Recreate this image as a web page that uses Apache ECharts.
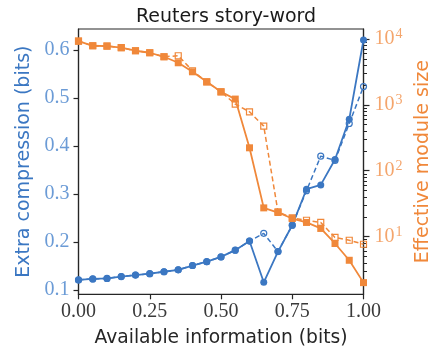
<!DOCTYPE html>
<html>
<head>
<meta charset="utf-8">
<script src="https://cdn.jsdelivr.net/npm/echarts@6/dist/echarts.min.js"></script>
<style>
  html, body { margin: 0; padding: 0; background: #ffffff; }
  #chart { width: 429px; height: 350px; }
</style>
</head>
<body>
<div id="chart"></div>
<script>
// Available information (bits) on the x axis
const availableInfo = [0, 0.05, 0.1, 0.15, 0.2, 0.25, 0.3, 0.35, 0.4, 0.45, 0.5,
                       0.55, 0.6, 0.65, 0.7, 0.75, 0.8, 0.85, 0.9, 0.95, 1.0];

// Extra compression (bits), left axis
const compressionSolid = [0.121, 0.123, 0.124, 0.128, 0.131, 0.134, 0.138, 0.142, 0.151, 0.159, 0.169,
                          0.183, 0.202, 0.116, 0.180, 0.235, 0.310, 0.319, 0.372, 0.456, 0.621];
const compressionDashed = [0.121, 0.123, 0.124, 0.128, 0.131, 0.134, 0.138, 0.142, 0.151, 0.159, 0.169,
                           0.183, 0.202, 0.218, 0.180, 0.235, 0.307, 0.379, 0.370, 0.447, 0.524];

// Effective module size, right (log) axis
const moduleSolid = [9300, 7900, 7830, 7380, 6640, 6190, 5380, 4360, 3180, 2240, 1580,
                     1225, 223, 27.3, 23.2, 18.8, 16.4, 13.3, 7.86, 4.37, 2.0];
const moduleDashed = [9300, 7900, 7830, 7380, 6640, 6190, 5380, 5570, 3300, 2240, 1580,
                      1028, 785, 476, 23.7, 19.2, 17.7, 16.4, 9.7, 8.8, 7.65];

// Tick positions
const xTicks = [0, 0.25, 0.5, 0.75, 1.0];
const compressionTicks = [0.1, 0.2, 0.3, 0.4, 0.5, 0.6];
const moduleMajorTicks = [10, 100, 1000, 10000];
const moduleMinorTicks = [];
for (const decade of [1, 10, 100, 1000]) {
  for (let k = 2; k <= 9; k++) moduleMinorTicks.push(k * decade);
}

const BLUE = '#3b77c2';
const BLUE_LABEL = '#6b9bd6';
const ORANGE = '#f0883a';
const ORANGE_LABEL = '#f4a56c';
const INK = '#262626';
const SERIF = '"Liberation Serif", "DejaVu Serif", serif';
const SANS = '"DejaVu Sans", sans-serif';

const pairs = (ys) => availableInfo.map((x, i) => [x, ys[i]]);

const chart = echarts.init(document.getElementById('chart'), null, { renderer: 'canvas' });

chart.setOption({
  animation: false,
  backgroundColor: '#ffffff',
  title: {
    text: 'Reuters story-word',
    left: 221,
    textAlign: 'center',
    top: 3,
    textStyle: { fontFamily: SANS, fontSize: 19, fontWeight: 'normal', color: '#1a1a1a' }
  },
  grid: {
    left: 78.5, right: 65.5, top: 29, bottom: 55.7,
    outerBoundsMode: 'none',
    containLabel: false,
    show: true, borderColor: INK, borderWidth: 1.2, backgroundColor: 'transparent'
  },
  xAxis: {
    type: 'value',
    min: 0, max: 1, interval: 0.25,
    name: 'Available information (bits)',
    nameLocation: 'middle',
    nameGap: 34,
    nameTextStyle: { fontFamily: SANS, fontSize: 18.7, color: INK },
    axisLine: { show: true, lineStyle: { color: INK, width: 1.2 } },
    axisTick: { show: true, length: 5, lineStyle: { color: INK, width: 1.2 } },
    axisLabel: {
      fontFamily: SERIF, fontSize: 20, color: '#3a3a3a', margin: 7,
      formatter: (v) => v.toFixed(2)
    },
    splitLine: { show: false }
  },
  yAxis: [
    {
      type: 'value',
      position: 'left',
      min: 0.091, max: 0.644,
      name: 'Extra compression (bits)',
      nameLocation: 'middle',
      nameGap: 42,
      nameTextStyle: { fontFamily: SANS, fontSize: 19, color: BLUE },
      axisLine: { show: true, lineStyle: { color: INK, width: 1.2 } },
      axisTick: { show: true, length: 5, customValues: compressionTicks, lineStyle: { color: INK, width: 1.2 } },
      axisLabel: {
        fontFamily: SERIF, fontSize: 20, color: BLUE_LABEL, margin: 9,
        customValues: compressionTicks,
        formatter: (v) => v.toFixed(1)
      },
      splitLine: { show: false }
    },
    {
      type: 'log',
      logBase: 10,
      position: 'right',
      min: 1.33, max: 14200,
      name: 'Effective module size',
      nameLocation: 'middle',
      nameGap: 48,
      nameRotate: 90,
      nameTextStyle: { fontFamily: SANS, fontSize: 19, color: ORANGE },
      axisLine: { show: true, lineStyle: { color: INK, width: 1.2 } },
      axisTick: { show: true, length: 6, customValues: moduleMajorTicks, lineStyle: { color: INK, width: 1.2 } },
      axisLabel: {
        margin: 11,
        customValues: moduleMajorTicks,
        formatter: (v) => '{b|10}{s|' + Math.round(Math.log10(v)) + '}',
        rich: {
          b: { fontFamily: SERIF, fontSize: 20, color: ORANGE_LABEL },
          s: { fontFamily: SERIF, fontSize: 14, color: ORANGE_LABEL, verticalAlign: 'bottom', padding: [0, 0, 9, 1] }
        }
      },
      splitLine: { show: false }
    },
    {
      // minor decade ticks on the right axis
      type: 'log',
      logBase: 10,
      position: 'right',
      min: 1.33, max: 14200,
      axisLine: { show: false },
      axisTick: { show: true, length: 3.5, customValues: moduleMinorTicks, lineStyle: { color: INK, width: 1 } },
      axisLabel: { show: false, customValues: moduleMinorTicks },
      splitLine: { show: false }
    }
  ],
  series: [
    {
      type: 'line', yAxisIndex: 0, data: pairs(compressionDashed),
      symbol: 'circle', symbolSize: 6, z: 2,
      lineStyle: { color: BLUE, width: 1.5, type: [5, 3] },
      itemStyle: { color: 'transparent', borderColor: BLUE, borderWidth: 1.2 }
    },
    {
      type: 'line', yAxisIndex: 0, data: pairs(compressionSolid),
      symbol: 'circle', symbolSize: 7, z: 3,
      lineStyle: { color: BLUE, width: 1.8 },
      itemStyle: { color: BLUE, borderWidth: 0 }
    },
    {
      type: 'line', yAxisIndex: 1, data: pairs(moduleDashed),
      symbol: 'rect', symbolSize: 6, z: 2,
      lineStyle: { color: ORANGE, width: 1.5, type: [5, 3] },
      itemStyle: { color: 'transparent', borderColor: ORANGE, borderWidth: 1.2 }
    },
    {
      type: 'line', yAxisIndex: 1, data: pairs(moduleSolid),
      symbol: 'rect', symbolSize: 7, z: 3,
      lineStyle: { color: ORANGE, width: 1.8 },
      itemStyle: { color: ORANGE, borderWidth: 0 }
    }
  ]
});
</script>
</body>
</html>
